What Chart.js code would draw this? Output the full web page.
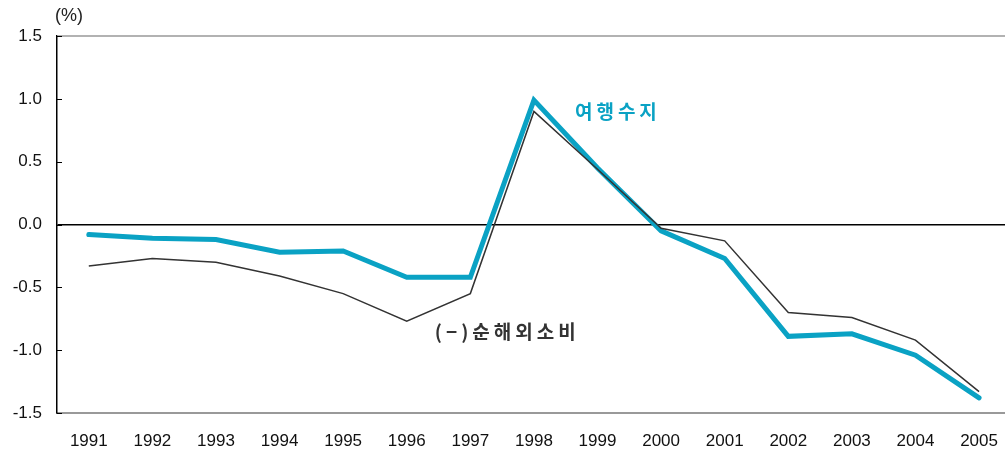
<!DOCTYPE html>
<html>
<head>
<meta charset="utf-8">
<script src="https://cdn.jsdelivr.net/npm/chart.js@4"></script>
<style>
  html, body { margin: 0; padding: 0; background: #fff; overflow: hidden; }
  #wrap { position: relative; width: 1016px; height: 452px; }
</style>
</head>
<body>
<div id="wrap"><canvas id="chart"></canvas></div>
<script>
// 여행수지 vs (−)순해외소비, 1991–2005 (%)
const years = ['1991','1992','1993','1994','1995','1996','1997','1998','1999','2000','2001','2002','2003','2004','2005'];
const travelBalance = [-0.08, -0.11, -0.12, -0.22, -0.21, -0.42, -0.42, 0.99, 0.45, -0.05, -0.27, -0.89, -0.87, -1.04, -1.38];
const netOverseasSpend = [-0.33, -0.27, -0.30, -0.41, -0.55, -0.77, -0.55, 0.90, 0.44, -0.03, -0.13, -0.70, -0.74, -0.92, -1.33];
const yTicks = [-1.5, -1.0, -0.5, 0.0, 0.5, 1.0, 1.5];

const TEAL = '#0aa2c4';
const DARK = '#333333';
const TICK_FONT = { family: 'Liberation Sans, Arial, sans-serif', size: 17 };

// inside tick marks, top border, unit and line labels
const decor = {
  id: 'decor',
  afterDraw(chart) {
    const { ctx, chartArea: a, scales: { x, y } } = chart;
    ctx.save();
    // top border
    ctx.strokeStyle = '#999';
    ctx.lineWidth = 1.5;
    ctx.beginPath();
    ctx.moveTo(a.left, a.top);
    ctx.lineTo(a.right, a.top);
    ctx.stroke();
    // small inward ticks on y axis
    ctx.strokeStyle = '#000';
    ctx.lineWidth = 1;
    yTicks.forEach(v => {
      const py = Math.round(y.getPixelForValue(v)) + 0.5;
      ctx.beginPath();
      ctx.moveTo(a.left, py);
      ctx.lineTo(a.left + 5, py);
      ctx.stroke();
    });
    // unit
    ctx.fillStyle = '#222';
    ctx.font = '18px Liberation Sans, Arial, sans-serif';
    ctx.textAlign = 'left';
    ctx.textBaseline = 'middle';
    ctx.fillText('(%)', a.left - 2, a.top - 20);
    // series labels
    ctx.letterSpacing = '4px';
    ctx.font = 'bold 19px "Noto Sans CJK KR", sans-serif';
    ctx.fillStyle = TEAL;
    ctx.fillText('여행수지', x.getPixelForValue(7) + 41, y.getPixelForValue(0.9));
    ctx.fillStyle = DARK;
    ctx.fillText('(−)순해외소비', x.getPixelForValue(5) + 28, y.getPixelForValue(-0.85));
    ctx.restore();
  }
};

new Chart(document.getElementById('chart'), {
  type: 'line',
  data: {
    labels: years,
    datasets: [
      { label: '(−)순해외소비', data: netOverseasSpend, borderColor: DARK, borderWidth: 1.5, pointRadius: 0, tension: 0 },
      { label: '여행수지', data: travelBalance, borderColor: TEAL, borderWidth: 5, pointRadius: 0, tension: 0, borderCapStyle: 'round', borderJoinStyle: 'miter' },
    ],
  },
  options: {
    animation: false, responsive: true, maintainAspectRatio: false,
    layout: { padding: { top: 36, right: 1, bottom: 0, left: 0 } },
    plugins: { legend: { display: false }, tooltip: { enabled: false } },
    scales: {
      x: {
        offset: true,
        grid: { display: false, drawTicks: false },
        border: { color: '#999', width: 2 },
        ticks: { color: '#111', font: TICK_FONT, padding: 18, maxRotation: 0, autoSkip: false },
        afterFit: s => { s.height = 39; },
      },
      y: {
        min: -1.5, max: 1.5,
        afterBuildTicks: s => { s.ticks = yTicks.map(v => ({ value: v })); },
        grid: {
          drawTicks: false,
          color: c => c.tick.value === 0 ? '#000' : 'rgba(0,0,0,0)',
          lineWidth: 1.5,
        },
        border: { color: '#000', width: 1.5 },
        ticks: { color: '#111', font: TICK_FONT, padding: 15, callback: v => v.toFixed(1) },
        afterFit: s => { s.width = 57; },
      },
    },
  },
  plugins: [decor],
});
</script>
</body>
</html>
